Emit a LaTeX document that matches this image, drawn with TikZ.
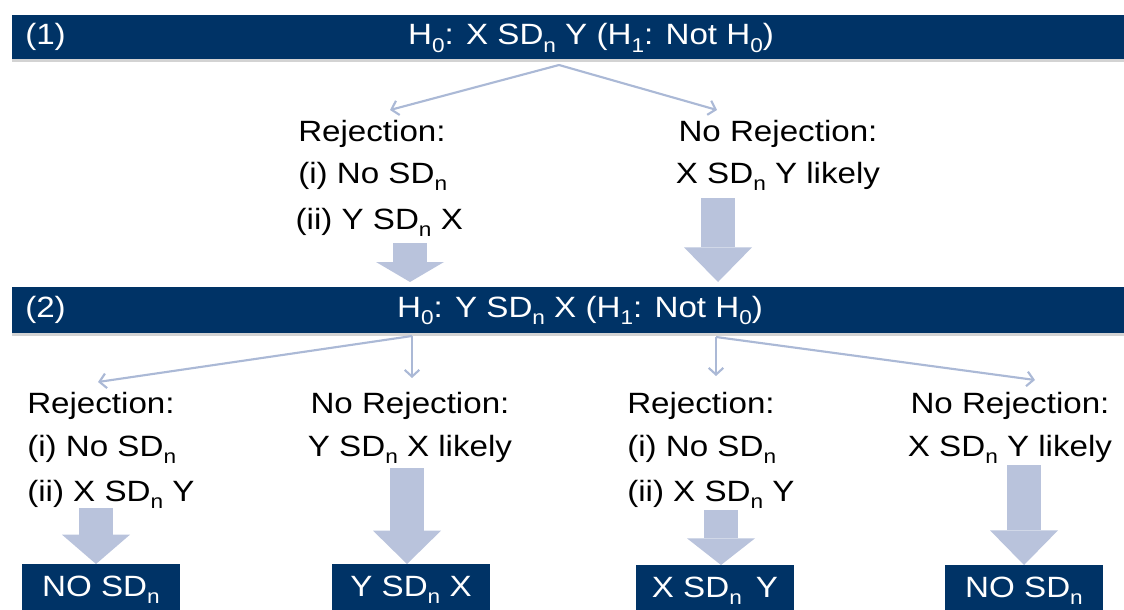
\documentclass[tikz,border=0pt]{standalone}
\usepackage{fontspec}
\setmainfont{Liberation Sans}[FakeStretch=1.13]
\usetikzlibrary{arrows.meta,shadows}
\definecolor{navy}{HTML}{003366}
\definecolor{pale}{HTML}{B9C3DC}
\definecolor{thinblue}{HTML}{ABB9D6}
\newcommand{\lowsub}[1]{\raisebox{-0.24em}{\fontsize{15}{15}\selectfont #1}}
\newcommand{\SDn}{SD\lowsub{n}}
\tikzset{
  bar/.style={fill=navy, minimum width=847.5pt, minimum height=#1, inner sep=0pt,
    drop shadow={shadow xshift=0pt, shadow yshift=-2.5pt, opacity=.35}},
  hyp/.style={text=white, font=\fontsize{22}{26}\selectfont, inner sep=0pt, anchor=base},
  lbl/.style={text=black, font=\fontsize{22}{26}\selectfont, inner sep=0pt, anchor=base},
  outbox/.style={fill=navy, text=white, font=\fontsize{22}{26}\selectfont, minimum width=118.5pt,
    inner sep=0pt, text height=24.5pt, text depth=22pt, anchor=north},
  arr/.style={draw=thinblue, line width=1.6pt, -{Straight Barb[length=5pt,width=11pt]}},
  bigarr/.style={draw=pale, line width=26pt, -{Triangle[length=#1,width=51pt,line width=0pt]}}}

\begin{document}
\begin{tikzpicture}[x=0.75pt, y=-0.75pt]
\useasboundingbox (0,0) rectangle (1124,610);

% first test
\node[bar=33pt] (bar1) at (577,37) {};
\node[hyp, anchor=base west] (num1) at (25,45) {(1)};
\node[hyp] (hyp1) at (591,45) {H\lowsub{0}: X \SDn{} Y (H\lowsub{1}: Not H\lowsub{0})};

\coordinate (o1) at (559,65);
\coordinate (t1l) at (390,110);
\coordinate (t1r) at (717,110);
\draw[arr] (o1) -- (t1l);
\draw[arr] (o1) -- (t1r);

\node[lbl, anchor=base west] (rejA1) at (298,141) {Rejection:};
\node[lbl, anchor=base west] (rejA2) at ([yshift=-31.5pt]rejA1.base west) {(i) No \SDn};
\node[lbl, anchor=base west] (rejA3) at ([xshift=-2pt,yshift=-34.5pt]rejA2.base west) {(ii) Y \SDn{} X};
\node[lbl] (norejA1) at (778,141) {No Rejection:};
\node[lbl] (norejA2) at ([yshift=-31.5pt]norejA1.base) {X \SDn{} Y likely};

\coordinate (eTop) at (410,243);
\coordinate (eTip) at (410,282);
\coordinate (fTop) at (718,198);
\coordinate (fTip) at (718,282);
\draw[bigarr=15pt] (eTop) -- (eTip);
\draw[bigarr=26pt] (fTop) -- (fTip);

% second test
\node[bar=34.5pt] (bar2) at (577,310) {};
\node[hyp, anchor=base west] (num2) at (25,317) {(2)};
\node[hyp] (hyp2) at (580,317) {H\lowsub{0}: Y \SDn{} X (H\lowsub{1}: Not H\lowsub{0})};

\coordinate (o2) at (412,336);
\coordinate (o3) at (716,337);
\coordinate (t2a) at (98,382);
\coordinate (t2b) at (412,378);
\coordinate (t2c) at (716,376);
\coordinate (t2d) at (1035,380);
\draw[arr] (o2) -- (t2a);
\draw[arr] (o2) -- (t2b);
\draw[arr] (o3) -- (t2c);
\draw[arr] (o3) -- (t2d);

\node[lbl, anchor=base west] (rejB1) at (27,413) {Rejection:};
\node[lbl, anchor=base west] (rejB2) at ([yshift=-32.25pt]rejB1.base west) {(i) No \SDn};
\node[lbl, anchor=base west] (rejB3) at ([yshift=-33.75pt]rejB2.base west) {(ii) X \SDn{} Y};
\node[lbl] (norejB1) at (410,413) {No Rejection:};
\node[lbl] (norejB2) at ([yshift=-32.25pt]norejB1.base) {Y \SDn{} X likely};
\node[lbl, anchor=base west] (rejC1) at (627,413) {Rejection:};
\node[lbl, anchor=base west] (rejC2) at ([yshift=-32.25pt]rejC1.base west) {(i) No \SDn};
\node[lbl, anchor=base west] (rejC3) at ([yshift=-33.75pt]rejC2.base west) {(ii) X \SDn{} Y};
\node[lbl] (norejC1) at (1010,413) {No Rejection:};
\node[lbl] (norejC2) at ([yshift=-32.25pt]norejC1.base) {X \SDn{} Y likely};

% outcomes
\node[outbox] (outA) at (101,564) {NO \SDn};
\node[outbox] (outB) at (411,564) {Y \SDn{} X};
\node[outbox] (outC) at (715,565) {X \SDn{}\, Y};
\node[outbox] (outD) at (1024,565) {NO \SDn};

\coordinate (aTop) at (96,508);
\coordinate (bTop) at (407,468);
\coordinate (cTop) at (721,510);
\coordinate (dTop) at (1024,465);
\draw[bigarr=22pt] (aTop) -- (aTop |- outA.north);
\draw[bigarr=25pt] (bTop) -- (bTop |- outB.north);
\draw[bigarr=20pt] (cTop) -- (cTop |- outC.north);
\draw[bigarr=26pt] (dTop) -- (dTop |- outD.north);
\end{tikzpicture}
\end{document}
